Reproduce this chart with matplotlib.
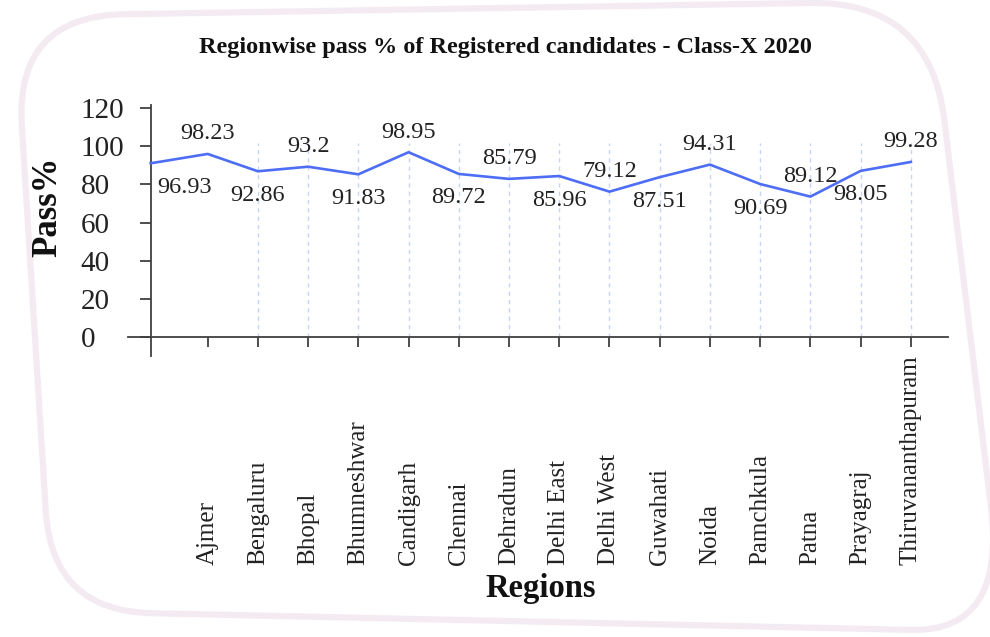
import numpy as np
import matplotlib.pyplot as plt
from matplotlib.path import Path
from matplotlib.patches import PathPatch

# --- data ---
regions = ["Ajmer", "Bengaluru", "Bhopal", "Bhumneshwar", "Candigarh", "Chennai",
           "Dehradun", "Delhi East", "Delhi West", "Guwahati", "Noida", "Pamchkula",
           "Patna", "Prayagraj", "Thiruvananthapuram"]
# the plotted line: first point sits on the y-axis, then one point per region
line_values = [91.1, 96.0, 86.9, 89.3, 85.3, 96.9, 85.5, 82.9, 84.4, 76.2,
               83.8, 90.4, 80.2, 73.6, 87.1, 91.8]
point_labels = ["96.93", "98.23", "92.86", "93.2", "91.83", "98.95", "89.72", "85.79",
                "85.96", "79.12", "87.51", "94.31", "90.69", "89.12", "98.05", "99.28"]
y_ticks = [0, 20, 40, 60, 80, 100, 120]

W, H = 990, 637
plt.rcParams['font.family'] = ['Liberation Serif', 'DejaVu Serif']
fig = plt.figure(figsize=(W / 100, H / 100), dpi=100)


def fx(px):
    return px / W


def fy(py):
    return 1 - py / H


# --- rounded, slightly skewed frame around everything ---
def rounded_quad(corners, radii):
    verts, codes = [], []
    n = len(corners)
    for i in range(n):
        p = np.array(corners[i], float)
        prev = np.array(corners[i - 1], float)
        nxt = np.array(corners[(i + 1) % n], float)
        a = p + (prev - p) / np.linalg.norm(prev - p) * radii[i]
        b = p + (nxt - p) / np.linalg.norm(nxt - p) * radii[i]
        verts.append(a)
        codes.append(Path.MOVETO if i == 0 else Path.LINETO)
        verts += [p, b]
        codes += [Path.CURVE3, Path.CURVE3]
    verts.append(verts[0])
    codes.append(Path.LINETO)
    verts = [(fx(v[0]), fy(v[1])) for v in verts]
    return Path(verts, codes)


frame = rounded_quad([(15, 16), (930, 1), (1006, 632), (52, 611)], [110, 120, 95, 100])
fig.add_artist(PathPatch(frame, transform=fig.transFigure, fill=False,
                         ec='#f4ebf2', lw=4.5, zorder=0))

# --- axes ---
X0 = -0.135  # where the y-axis crosses the category axis
ax = fig.add_axes([fx(128), fy(356), fx(948) - fx(128), fy(105) - fy(356)])
ax.patch.set_visible(False)
ax.set_xlim(-0.586, 15.74)
ax.set_ylim(-10.1, 121.7)

pos = np.arange(1, len(regions) + 1)
x_line = np.r_[X0, pos]

ax.vlines(pos[1:], 0, 102, colors='#c9d3f7', linestyles=(0, (3, 3)), linewidth=1, zorder=1)
ax.plot(x_line, line_values, color='#4d6df5', lw=1.9, zorder=3)

for s in ['top', 'right']:
    ax.spines[s].set_visible(False)
ax.spines['left'].set_position(('data', X0))
ax.spines['bottom'].set_position(('data', 0))
for s in ['left', 'bottom']:
    ax.spines[s].set_color('#404040')
    ax.spines[s].set_linewidth(1.3)

ax.set_xticks(pos)
ax.set_xticklabels(regions, rotation=90, va='bottom', ha='center', fontsize=18, color='#222222')
ax.tick_params(axis='x', length=7, width=1.3, pad=157, color='#404040')

ax.set_yticks(y_ticks)
ax.set_yticklabels([str(v) for v in y_ticks], fontsize=21, color='#222222')
for lab in ax.get_yticklabels():
    lab.set_horizontalalignment('left')
ax.tick_params(axis='y', length=8, width=1.3, pad=42.5, color='#404040')

# data labels, alternating below / above the line
for i, (x, y, t) in enumerate(zip(x_line, line_values, point_labels)):
    dy = -24 if i % 2 == 0 else 20
    dx = 7 if i == 0 else 0
    ax.annotate(t, (x, y), xytext=(dx, dy), textcoords='offset pixels',
                ha='left' if i == 0 else 'center', va='center',
                fontsize=17.5, color='#222222')

# --- titles ---
fig.text(fx(505), fy(47), "Regionwise pass % of Registered candidates - Class-X 2020",
         ha='center', va='center', fontsize=17.5, fontweight='bold', color='#111111')
fig.text(fx(48), fy(207), "Pass%", rotation=90, ha='center', va='center',
         fontsize=25, fontweight='bold', color='#111111')
fig.text(fx(541), fy(588), "Regions", ha='center', va='center',
         fontsize=23.5, fontweight='bold', color='#111111')

fig.savefig("out.png", dpi=100)
